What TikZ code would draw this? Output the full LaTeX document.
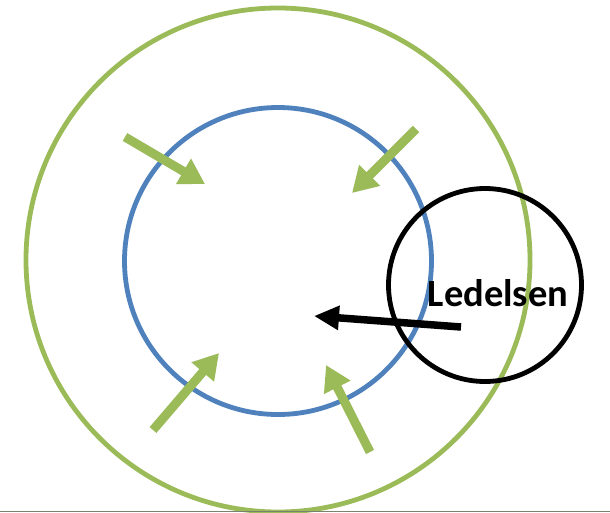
\documentclass[tikz,border=0pt]{standalone}
\usepackage{fontspec}
\setmainfont{Carlito}
\usetikzlibrary{arrows.meta}
\definecolor{ggreen}{RGB}{155,187,89}
\definecolor{bblue}{RGB}{79,129,189}
\begin{document}
\begin{tikzpicture}[x=1pt,y=-1pt,
  ring/.style={circle, draw, line width=4.8pt, inner sep=0pt},
  garrow/.style={draw=ggreen, line width=9pt, -{Triangle[width=28pt,length=25pt]}},
  barrow/.style={draw=black, line width=7.5pt, -{Triangle[width=23pt,length=25pt]}},
  lbl/.style={font=\bfseries\fontsize{38.5}{40}\selectfont, inner sep=0pt}]
\useasboundingbox (0,0) rectangle (610,512);
\node[ring, draw=ggreen, minimum size=504pt] (outer) at (278,260) {};
\node[ring, draw=bblue, minimum size=307pt] (inner) at (278,261) {};
\node[ring, draw=black, minimum size=193pt] (lead) at (485,285) {};
\coordinate (a1s) at (125,137); \coordinate (a1e) at (205,184);
\coordinate (a2s) at (416,129); \coordinate (a2e) at (352,193);
\coordinate (a3s) at (153,430); \coordinate (a3e) at (219,353);
\coordinate (a4s) at (370,452); \coordinate (a4e) at (326,365);
\draw[garrow] (a1s) -- (a1e);
\draw[garrow] (a2s) -- (a2e);
\draw[garrow] (a3s) -- (a3e);
\draw[garrow] (a4s) -- (a4e);
\coordinate (bs) at (461,327); \coordinate (be) at (314,316);
\draw[barrow] (bs) -- (be);
\node[lbl] (ledelsen) at (498,293) {Ledelsen};
\draw[draw={rgb,255:red,120;green,130;blue,110}, line width=1pt] (0,511.5) -- (610,511.5);
\end{tikzpicture}
\end{document}
